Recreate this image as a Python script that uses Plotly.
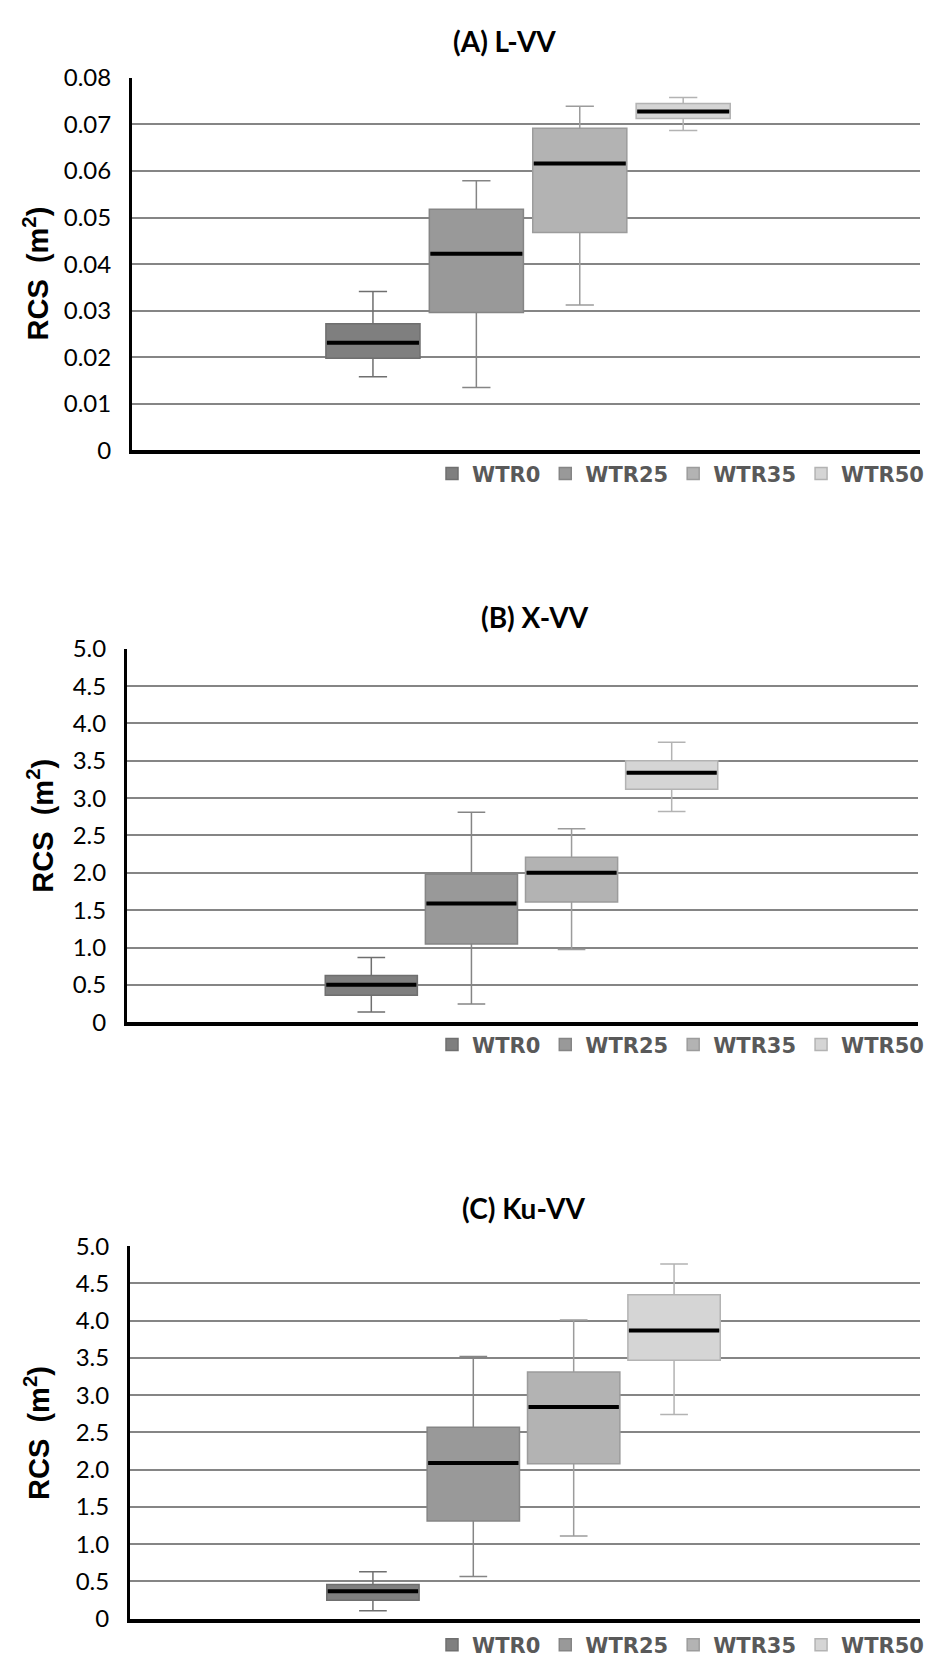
import plotly.graph_objects as go

# ---------------- data ----------------
groups = ["WTR0", "WTR25", "WTR35", "WTR50"]

# Panel A: L-VV
a_lower = [0.0158, 0.0135, 0.0312, 0.0687]
a_q1 = [0.0198, 0.0296, 0.0468, 0.0713]
a_median = [0.0231, 0.0422, 0.0616, 0.0728]
a_q3 = [0.0272, 0.0518, 0.0692, 0.0745]
a_upper = [0.0341, 0.0579, 0.0739, 0.0758]

# Panel B: X-VV
b_lower = [0.136, 0.242, 0.975, 2.82]
b_q1 = [0.36, 1.046, 1.61, 3.12]
b_median = [0.50, 1.59, 2.00, 3.34]
b_q3 = [0.624, 1.98, 2.21, 3.50]
b_upper = [0.866, 2.81, 2.59, 3.75]

# Panel C: Ku-VV
c_lower = [0.106, 0.567, 1.11, 2.74]
c_q1 = [0.246, 1.31, 2.08, 3.47]
c_median = [0.369, 2.09, 2.84, 3.87]
c_q3 = [0.457, 2.57, 3.31, 4.35]
c_upper = [0.629, 3.52, 4.01, 4.76]

titles = ["(A) L-VV", "(B) X-VV", "(C) Ku-VV"]
a_tickvals = [0, 0.01, 0.02, 0.03, 0.04, 0.05, 0.06, 0.07, 0.08]
a_ticktext = ["0", "0.01", "0.02", "0.03", "0.04", "0.05", "0.06", "0.07", "0.08"]
bc_tickvals = [0, 0.5, 1.0, 1.5, 2.0, 2.5, 3.0, 3.5, 4.0, 4.5, 5.0]
bc_ticktext = ["0", "0.5", "1.0", "1.5", "2.0", "2.5", "3.0", "3.5", "4.0", "4.5", "5.0"]

# ---------------- style ----------------
W, H = 929, 1667
fills = ["#7f7f7f", "#999999", "#b3b3b3", "#d5d5d5"]
outlines = ["#6f6f6f", "#858585", "#9c9c9c", "#b3b3b3"]

panels = [
    dict(lower=a_lower, q1=a_q1, med=a_median, q3=a_q3, upper=a_upper,
         px=(132, 920), py=(63, 442), yr=[0, 0.08], tv=a_tickvals, tt=a_ticktext,
         xr=[-2.33, 5.29], bw=0.91,
         title_xy=(504, 25), ytitle_xy=(36, 262), legend_y=466),
    dict(lower=b_lower, q1=b_q1, med=b_median, q3=b_q3, upper=b_upper,
         px=(127, 918), py=(644, 1024), yr=[0, 5.0], tv=bc_tickvals, tt=bc_ticktext,
         xr=[-2.44, 5.46], bw=0.92,
         title_xy=(535, 612), ytitle_xy=(40, 824), legend_y=1047),
    dict(lower=c_lower, q1=c_q1, med=c_median, q3=c_q3, upper=c_upper,
         px=(130, 920), py=(1252, 1631), yr=[0, 5.0], tv=bc_tickvals, tt=bc_ticktext,
         xr=[-2.42, 5.45], bw=0.92,
         title_xy=(523, 1213), ytitle_xy=(37, 1442), legend_y=1658),
]

fig = go.Figure()
layout = dict(
    width=W, height=H, margin=dict(l=0, r=0, t=0, b=0),
    paper_bgcolor="white", plot_bgcolor="white", showlegend=True,
    boxmode="overlay",
)
annotations = []

for i, p in enumerate(panels):
    sfx = "" if i == 0 else str(i + 1)
    xa, ya = "x" + sfx, "y" + sfx
    leg = "legend" + sfx
    for j, g in enumerate(groups):
        fig.add_trace(go.Box(
            x=[g], q1=[p["q1"][j]], median=[p["med"][j]], q3=[p["q3"][j]],
            lowerfence=[p["lower"][j]], upperfence=[p["upper"][j]],
            name=g, fillcolor=fills[j], line=dict(color=outlines[j], width=1.5),
            whiskerwidth=0.3, width=p["bw"], boxpoints=False,
            xaxis=xa, yaxis=ya, legend=leg, showlegend=True, hoverinfo="skip",
        ))
    for j, g in enumerate(groups):
        # black median bar
        fig.add_trace(go.Box(
            x=[g], q1=[p["med"][j]], median=[p["med"][j]], q3=[p["med"][j]],
            lowerfence=[p["med"][j]], upperfence=[p["med"][j]],
            name=g, fillcolor="rgba(0,0,0,0)", line=dict(color="black", width=4),
            whiskerwidth=0, width=p["bw"] - 0.02, boxpoints=False,
            xaxis=xa, yaxis=ya, showlegend=False, hoverinfo="skip",
        ))
    x0, x1 = p["px"]
    y0, y1 = p["py"]
    layout["xaxis" + sfx] = dict(
        domain=[x0 / W, x1 / W], anchor=ya, type="category",
        categoryorder="array", categoryarray=groups, range=p["xr"],
        showticklabels=False, ticks="", showgrid=False, zeroline=False,
        showline=True, linecolor="black", linewidth=3.5,
    )
    layout["yaxis" + sfx] = dict(
        domain=[1 - y1 / H, 1 - y0 / H], anchor=xa, range=p["yr"],
        tickvals=p["tv"], ticktext=p["tt"], ticks="", ticklabelstandoff=13,
        tickfont=dict(family="Lato", size=24, color="black"),
        showgrid=True, gridcolor="#858585", gridwidth=1.5, zeroline=False,
        showline=True, linecolor="black", linewidth=3,
    )
    layout[leg] = dict(
        orientation="h", x=1.0, xanchor="right", y=1 - p["legend_y"] / H,
        yanchor="middle", font=dict(family="DejaVu Sans", size=21, color="#595959",
                                     weight="bold"),
        bgcolor="rgba(0,0,0,0)", itemclick=False, traceorder="normal",
        tracegroupgap=0, itemwidth=30,
    )
    tx, ty = p["title_xy"]
    annotations.append(dict(
        text="<b>" + titles[i] + "</b>", x=tx / W, y=1 - ty / H, xref="paper",
        yref="paper", showarrow=False, xanchor="center", yanchor="middle",
        font=dict(family="Lato", size=28, color="black"),
    ))
    ax, ay = p["ytitle_xy"]
    annotations.append(dict(
        text="<b>RCS  (m<sup>2</sup>)</b>", x=ax / W, y=1 - ay / H, xref="paper",
        yref="paper", showarrow=False, xanchor="center", yanchor="middle",
        textangle=-90, font=dict(family="Liberation Sans", size=29, color="black"),
    ))

layout["annotations"] = annotations
fig.update_layout(**layout)
fig.write_html("out.html")
